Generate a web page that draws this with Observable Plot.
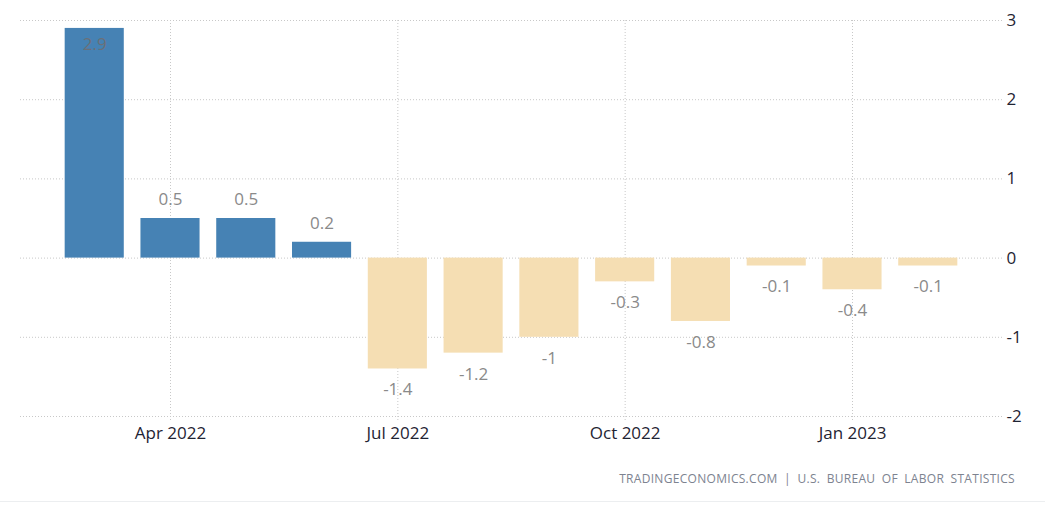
<!DOCTYPE html>
<html>
<head>
<meta charset="utf-8">
<script src="https://cdn.jsdelivr.net/npm/d3@7"></script>
<script src="https://cdn.jsdelivr.net/npm/@observablehq/plot@0.6"></script>
<style>
  html, body { margin: 0; padding: 0; background: #fff; }
  #wrap { width: 1045px; height: 507px; position: relative; overflow: hidden; }
  #caption {
    position: absolute; right: 30px; top: 470px;
    font-family: "Open Sans", sans-serif; font-size: 12px; letter-spacing: 0.3px;
    color: #7d8390; word-spacing: 3px; white-space: nowrap;
  }
  #sep { position: absolute; left: 0; right: 0; top: 501px; border-top: 1px solid #eceef0; }
</style>
</head>
<body>
<div id="wrap">
  <div id="chart"></div>
  <div id="caption">TRADINGECONOMICS.COM | U.S. BUREAU OF LABOR STATISTICS</div>
  <div id="sep"></div>
</div>
<script>
const months = ["Mar 2022","Apr 2022","May 2022","Jun 2022","Jul 2022","Aug 2022","Sep 2022","Oct 2022","Nov 2022","Dec 2022","Jan 2023","Feb 2023"];
const values = [2.9, 0.5, 0.5, 0.2, -1.4, -1.2, -1, -0.3, -0.8, -0.1, -0.4, -0.1];
const xTicks = ["Apr 2022","Jul 2022","Oct 2022","Jan 2023"];
const yTicks = [-2, -1, 0, 1, 2, 3];

const data = months.map((m, i) => ({month: m, value: values[i]}));
const maxV = d3.max(values);

const chart = Plot.plot({
  width: 1045,
  height: 460,
  marginLeft: 48,
  marginRight: 71,
  marginTop: 20,
  marginBottom: 44,
  style: {fontFamily: "Open Sans, sans-serif", fontSize: "17px", background: "transparent"},
  x: {type: "band", domain: months, padding: 0.22, round: false},
  y: {domain: [-2, 3]},
  marks: [
    Plot.ruleY(yTicks, {stroke: "#c8c8c8", strokeDasharray: "1,2", insetLeft: -28, insetRight: -29}),
    Plot.ruleX(xTicks, {stroke: "#c8c8c8", strokeDasharray: "1,2", insetBottom: -5}),
    Plot.barY(data, {x: "month", y: "value", fill: d => d.value >= 0 ? "#4682B4" : "#F5DEB3"}),
    Plot.text(data.filter(d => d.value >= 0 && d.value !== maxV), {x: "month", y: "value", text: d => String(d.value), dy: -19, fill: "#8a8a8a", fontSize: 17}),
    Plot.text(data.filter(d => d.value === maxV), {x: "month", y: "value", text: d => String(d.value), dy: 16, fill: "#6b7078", fontSize: 17}),
    Plot.text(data.filter(d => d.value < 0), {x: "month", y: "value", text: d => String(d.value), dy: 21, fill: "#8a8a8a", fontSize: 17}),
    Plot.axisX(xTicks, {tickSize: 0, tickPadding: 10, fill: "#1f2433", fontSize: 17, label: null}),
    Plot.axisY(yTicks, {anchor: "right", tickSize: 0, tickPadding: 32, textAnchor: "start", fill: "#1f2433", fontSize: 17, label: null, tickFormat: d => String(d)})
  ]
});
document.getElementById("chart").appendChild(chart);
</script>
</body>
</html>
